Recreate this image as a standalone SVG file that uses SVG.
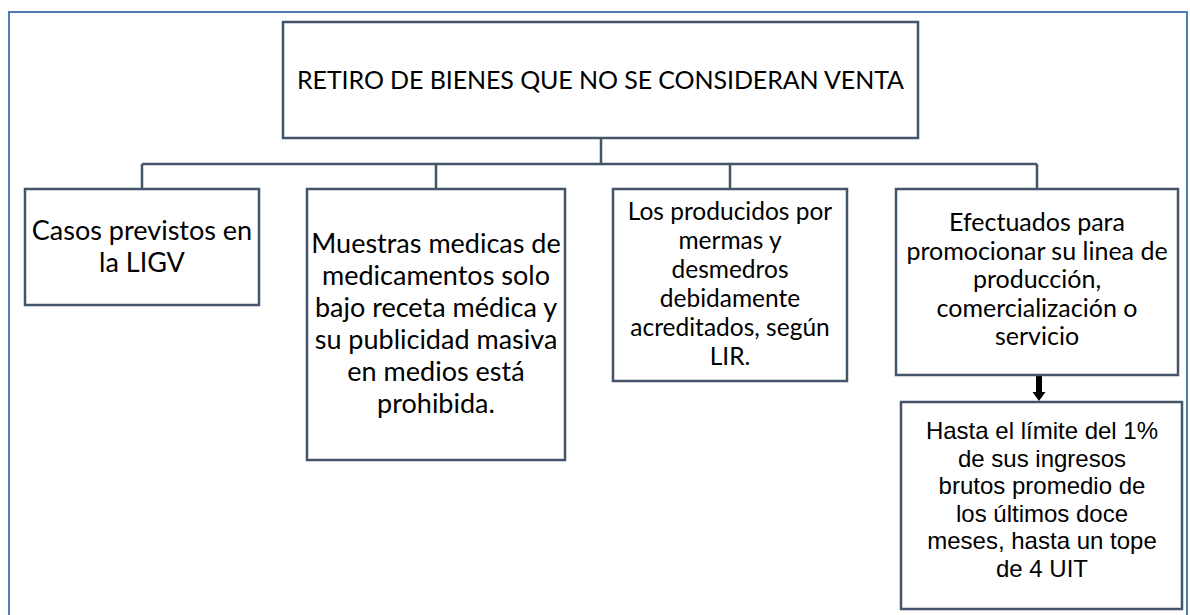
<svg xmlns="http://www.w3.org/2000/svg" width="1190" height="615" viewBox="0 0 1190 615">
<style>
.box{fill:#ffffff;stroke:#44546a;stroke-width:2.5}
.ln{fill:none;stroke:#44546a;stroke-width:2.5}
.c{font-family:Lato,"Open Sans","Liberation Sans",sans-serif;fill:#000;text-anchor:middle}
.ttl{font-size:25px}
.big{font-size:27px}
.mid{font-size:24.5px}
.m4{font-size:25px}
.a{font-family:"Liberation Sans",Arial,sans-serif;font-size:24px;fill:#000;text-anchor:middle}
</style>
<rect width="1190" height="615" fill="#ffffff"/>
<rect x="9" y="12" width="1178" height="700" fill="none" stroke="#4f7cb1" stroke-width="2"/>

<g id="connectors">
<path class="ln" d="M601,138 V164 M142,164 H1037 M142,164 V189 M436,164 V189 M730,164 V189 M1037,164 V189"/>
<path d="M1039,375 V392" stroke="#000" stroke-width="6" fill="none"/>
<path d="M1032.5,392 L1045.5,392 L1039,401 z" fill="#000"/>
</g>

<g id="root">
<rect class="box" x="283" y="22" width="635" height="116"/>
<text class="c ttl" x="600.5" y="89" textLength="607">RETIRO DE BIENES QUE NO SE CONSIDERAN VENTA</text>
</g>

<g id="n1">
<rect class="box" x="25" y="189" width="234" height="116"/>
<text class="c big" x="142" y="240">Casos previstos en</text>
<text class="c big" x="142" y="272">la LIGV</text>
</g>

<g id="n2">
<rect class="box" x="307" y="189" width="258" height="271"/>
<text class="c big" x="436" y="253">Muestras medicas de</text>
<text class="c big" x="436" y="285">medicamentos solo</text>
<text class="c big" x="436" y="317">bajo receta médica y</text>
<text class="c big" x="436" y="349">su publicidad masiva</text>
<text class="c big" x="436" y="381">en medios está</text>
<text class="c big" x="436" y="413">prohibida.</text>
</g>

<g id="n3">
<rect class="box" x="613" y="189" width="234" height="192"/>
<text class="c mid" x="730" y="220">Los producidos por</text>
<text class="c mid" x="730" y="249">mermas y</text>
<text class="c mid" x="730" y="278">desmedros</text>
<text class="c mid" x="730" y="307">debidamente</text>
<text class="c mid" x="730" y="336">acreditados, según</text>
<text class="c mid" x="730" y="365">LIR.</text>
</g>

<g id="n4">
<rect class="box" x="896" y="189" width="282" height="186"/>
<text class="c m4" x="1037" y="231">Efectuados para</text>
<text class="c m4" x="1037" y="260">promocionar su linea de</text>
<text class="c m4" x="1037" y="288">producción,</text>
<text class="c m4" x="1037" y="317">comercialización o</text>
<text class="c m4" x="1037" y="345">servicio</text>
</g>

<g id="n5">
<rect class="box" x="901" y="402" width="281" height="207"/>
<text class="a" x="1042" y="439">Hasta el límite del 1%</text>
<text class="a" x="1042" y="467">de sus ingresos</text>
<text class="a" x="1042" y="494">brutos promedio de</text>
<text class="a" x="1042" y="522">los últimos doce</text>
<text class="a" x="1042" y="549">meses, hasta un tope</text>
<text class="a" x="1042" y="577">de 4 UIT</text>
</g>
</svg>
